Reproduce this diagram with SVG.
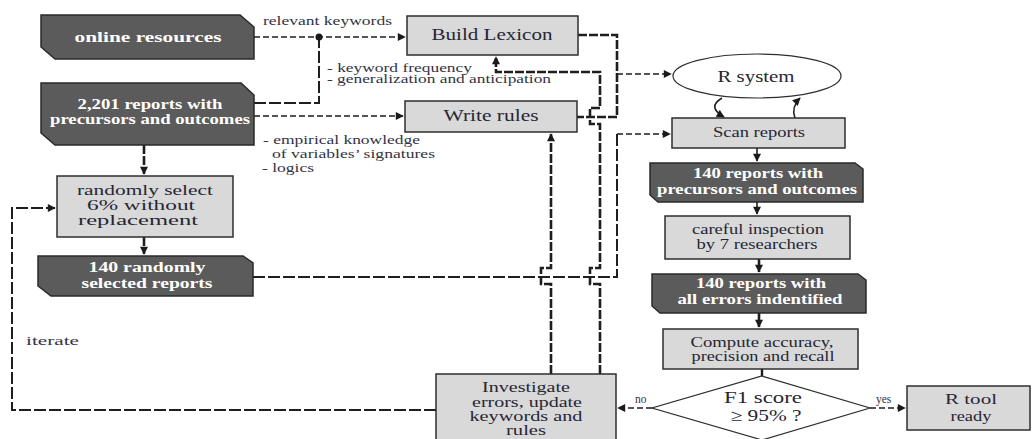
<svg xmlns="http://www.w3.org/2000/svg" width="1032" height="439" viewBox="0 0 1032 439" font-family="Liberation Serif, serif">
  <defs>
    <marker id="arr" viewBox="0 0 10 10" refX="9" refY="5" markerWidth="10" markerHeight="8" markerUnits="userSpaceOnUse" orient="auto">
      <path d="M0,0 L10,5 L0,10 z" fill="#1a1a1a"/>
    </marker>
    <style>
      text { font-family: "Liberation Serif", serif; }
      .dark { fill: #5b5b5b; stroke: #2a2a2a; stroke-width: 1.5; }
      .light { fill: #d9d9d9; stroke: #2e2e2e; stroke-width: 1.5; }
      .oval { fill: #ffffff; stroke: #2e2e2e; stroke-width: 1.2; }
      .dtxt { font-weight: bold; font-size: 14.5px; fill: #ffffff; text-anchor: middle; }
      .ltxt { font-size: 14.5px; fill: #262633; text-anchor: middle; }
      .big { font-size: 16.5px; }
      .mid { font-size: 15px; }
      .note { font-size: 11.5px; fill: #333344; }
      .dash { fill: none; stroke: #1e1e1e; stroke-width: 1.6; stroke-dasharray: 6 3; }
      .heavy { fill: none; stroke: #1e1e1e; stroke-width: 2.6; stroke-dasharray: 9 2; }
      .long { fill: none; stroke: #1e1e1e; stroke-width: 2; stroke-dasharray: 12 3; }
      .solid { fill: none; stroke: #1e1e1e; stroke-width: 1.6; }
    </style>
  </defs>
  <rect width="1032" height="439" fill="#ffffff"/>

  <!-- connectors -->
  <g id="connectors">
    <!-- sources to lexicon / rules -->
    <path class="dash" d="M254,37 H405" marker-end="url(#arr)"/>
    <path class="long" d="M254,103 H319 V37"/>
    <circle cx="319" cy="37" r="3.5" fill="#1a1a1a"/>
    <path class="dash" d="M254,116 H403" marker-end="url(#arr)"/>
    <!-- left column -->
    <path class="heavy" d="M144,145 V174" marker-end="url(#arr)"/>
    <path class="heavy" d="M144,237 V254" marker-end="url(#arr)"/>
    <!-- lexicon and rules feed R system -->
    <path class="heavy" d="M578,35 H617 V117 H577"/>
    <path class="dash" d="M617,74 H671" marker-end="url(#arr)"/>
    <!-- sample to scan -->
    <path class="long" d="M253,277 H617 V134"/>
    <path class="dash" d="M617,134 H670" marker-end="url(#arr)"/>
    <!-- feedback from investigation -->
    <path class="heavy" d="M551,374 V284 H541 V268 H551 V134" marker-end="url(#arr)"/>
    <path class="heavy" d="M600,374 V284 H590 V268 H600 V124 H590 V108 H600 V72 H496 V57" marker-end="url(#arr)"/>
    <path class="long" d="M436,410 H12 V208 H55" marker-end="url(#arr)"/>
    <!-- R system loop -->
    <path class="solid" d="M722,98 C712,104 712,110 724,117" marker-end="url(#arr)"/>
    <path class="solid" d="M795,118 C792,110 794,104 800,98" marker-end="url(#arr)"/>
    <!-- right column -->
    <path class="solid" d="M757,148 V161" marker-end="url(#arr)"/>
    <path class="solid" d="M757,202 V214" marker-end="url(#arr)"/>
    <path class="heavy" d="M759,259 V272" marker-end="url(#arr)"/>
    <path class="heavy" d="M759,313 V327" marker-end="url(#arr)"/>
    <path class="solid" d="M762,369 V376" style="stroke-width:2.4"/>
    <path class="dash" d="M652,408 H618" marker-end="url(#arr)"/>
    <path class="dash" d="M870,408 H905" marker-end="url(#arr)"/>
    <text class="note" x="635" y="403">no</text>
    <text class="note" x="876" y="403">yes</text>
  </g>

  <!-- annotations -->
  <g id="labels">
    <text class="note" x="263" y="25" textLength="129" lengthAdjust="spacingAndGlyphs">relevant keywords</text>
    <text class="note" x="327" y="72" textLength="145" lengthAdjust="spacingAndGlyphs">- keyword frequency</text>
    <text class="note" x="327" y="83" textLength="224" lengthAdjust="spacingAndGlyphs">- generalization and anticipation</text>
    <text class="note" x="263" y="144" textLength="157" lengthAdjust="spacingAndGlyphs">- empirical knowledge</text>
    <text class="note" x="272" y="158" textLength="163" lengthAdjust="spacingAndGlyphs">of variables’ signatures</text>
    <text class="note" x="262" y="172" textLength="52" lengthAdjust="spacingAndGlyphs">- logics</text>
    <text class="note" x="26" y="345" textLength="53" lengthAdjust="spacingAndGlyphs" style="font-size:12.5px">iterate</text>
  </g>

  <!-- nodes -->
  <g id="online-resources">
    <polygon class="dark" points="41,15 240,15 254,27 254,59 55,59 41,47"/>
    <text class="dtxt" x="148" y="42" textLength="147" lengthAdjust="spacingAndGlyphs">online resources</text>
  </g>
  <g id="all-reports">
    <polygon class="dark" points="41,83 241,83 254,95 254,145 55,145 41,133"/>
    <text class="dtxt" x="150" y="109" textLength="145" lengthAdjust="spacingAndGlyphs">2,201 reports with</text>
    <text class="dtxt" x="150" y="124" textLength="200" lengthAdjust="spacingAndGlyphs">precursors and outcomes</text>
  </g>
  <g id="build-lexicon">
    <rect class="light" x="407" y="16" width="171" height="39"/>
    <text class="ltxt big" x="492" y="40" textLength="121" lengthAdjust="spacingAndGlyphs">Build Lexicon</text>
  </g>
  <g id="write-rules">
    <rect class="light" x="405" y="101" width="172" height="31"/>
    <text class="ltxt big" x="491" y="121" textLength="95" lengthAdjust="spacingAndGlyphs">Write rules</text>
  </g>
  <g id="random-select">
    <rect class="light" x="57" y="176" width="176" height="61"/>
    <text class="ltxt" x="145" y="195" textLength="136" lengthAdjust="spacingAndGlyphs">randomly select</text>
    <text class="ltxt" x="141" y="210" textLength="108" lengthAdjust="spacingAndGlyphs">6% without</text>
    <text class="ltxt" x="138" y="225" textLength="120" lengthAdjust="spacingAndGlyphs">replacement</text>
  </g>
  <g id="sample-reports">
    <polygon class="dark" points="38,256 243,256 253,263 253,296 51,296 38,286"/>
    <text class="dtxt" x="147" y="272" textLength="117" lengthAdjust="spacingAndGlyphs">140 randomly</text>
    <text class="dtxt" x="147" y="288" textLength="131" lengthAdjust="spacingAndGlyphs">selected reports</text>
  </g>
  <g id="investigate">
    <rect class="light" x="436" y="374" width="180" height="70"/>
    <text class="ltxt" x="526" y="392" textLength="88" lengthAdjust="spacingAndGlyphs">Investigate</text>
    <text class="ltxt" x="527" y="407" textLength="110" lengthAdjust="spacingAndGlyphs">errors, update</text>
    <text class="ltxt" x="526" y="421" textLength="113" lengthAdjust="spacingAndGlyphs">keywords and</text>
    <text class="ltxt" x="526" y="435" textLength="40" lengthAdjust="spacingAndGlyphs">rules</text>
  </g>
  <g id="r-system">
    <ellipse class="oval" cx="757" cy="76" rx="84" ry="22"/>
    <text class="ltxt big" x="756" y="82" textLength="77" lengthAdjust="spacingAndGlyphs">R system</text>
  </g>
  <g id="scan-reports">
    <rect class="light" x="672" y="118" width="173" height="30"/>
    <text class="ltxt" x="759" y="137" textLength="92" lengthAdjust="spacingAndGlyphs">Scan reports</text>
  </g>
  <g id="scanned-reports">
    <polygon class="dark" points="650,163 855,163 863,169 863,202 658,202 650,195"/>
    <text class="dtxt" x="758" y="178" textLength="130" lengthAdjust="spacingAndGlyphs">140 reports with</text>
    <text class="dtxt" x="757" y="194" textLength="200" lengthAdjust="spacingAndGlyphs">precursors and outcomes</text>
  </g>
  <g id="inspection">
    <rect class="light" x="665" y="216" width="185" height="43"/>
    <text class="ltxt" x="758" y="234" textLength="132" lengthAdjust="spacingAndGlyphs">careful inspection</text>
    <text class="ltxt" x="757" y="249" textLength="121" lengthAdjust="spacingAndGlyphs">by 7 researchers</text>
  </g>
  <g id="error-reports">
    <polygon class="dark" points="652,274 858,274 866,280 866,313 660,313 652,306"/>
    <text class="dtxt" x="761" y="288" textLength="130" lengthAdjust="spacingAndGlyphs">140 reports with</text>
    <text class="dtxt" x="760" y="304" textLength="165" lengthAdjust="spacingAndGlyphs">all errors indentified</text>
  </g>
  <g id="compute">
    <rect class="light" x="663" y="329" width="195" height="40"/>
    <text class="ltxt" x="762" y="347" textLength="143" lengthAdjust="spacingAndGlyphs">Compute accuracy,</text>
    <text class="ltxt" x="763" y="361" textLength="143" lengthAdjust="spacingAndGlyphs">precision and recall</text>
  </g>
  <g id="f1-decision">
    <polygon points="762,376 870,408 762,440 652,408" fill="#ffffff" stroke="#2e2e2e" stroke-width="1.2"/>
    <text class="ltxt big" x="763" y="403" textLength="78" lengthAdjust="spacingAndGlyphs">F1 score</text>
    <text class="ltxt big" x="766" y="421" textLength="71" lengthAdjust="spacingAndGlyphs">≥ 95% ?</text>
  </g>
  <g id="r-tool-ready">
    <rect class="light" x="907" y="386" width="123" height="44"/>
    <text class="ltxt mid" x="971" y="404" textLength="52" lengthAdjust="spacingAndGlyphs">R tool</text>
    <text class="ltxt mid" x="971" y="421" textLength="41" lengthAdjust="spacingAndGlyphs">ready</text>
  </g>
</svg>
